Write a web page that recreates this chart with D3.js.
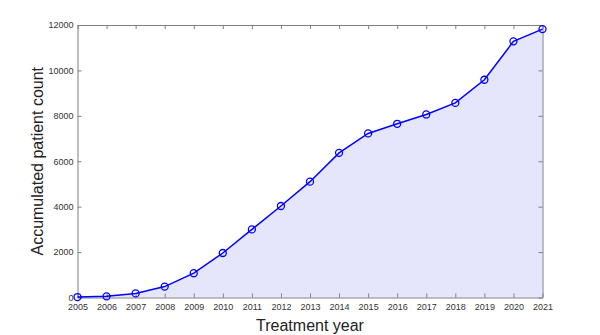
<!DOCTYPE html>
<html><head><meta charset="utf-8">
<script src="https://cdn.jsdelivr.net/npm/d3@7"></script>
<style>body{margin:0;background:#fff}svg{display:block}</style>
</head><body>
<svg id="c" width="600" height="335"></svg>
<script>
const years = [2005,2006,2007,2008,2009,2010,2011,2012,2013,2014,2015,2016,2017,2018,2019,2020,2021];
const counts = [20,50,180,480,1070,1960,3000,4030,5100,6370,7225,7650,8060,8570,9590,11280,11820];
const yTicks = [0,2000,4000,6000,8000,10000,12000];
const xLabel = "Treatment year";
const yLabel = "Accumulated patient count";

const svg = d3.select("#c");
const L = 77.5, R = 542.5, T = 25, B = 297.5;
const x = d3.scaleLinear().domain([2005,2021]).range([L,R]);
const y = d3.scaleLinear().domain([0,12000]).range([B,T]);
const axisCol = "#808080", textCol = "#333";

// area
svg.append("path").datum(years.map((yr,i)=>[yr,counts[i]]))
  .attr("d", d3.area().x(d=>x(d[0])).y0(y(0)).y1(d=>y(d[1])))
  .attr("fill","#e5e5fc");

// axes
function styleAxis(g){
  g.select(".domain").attr("stroke",axisCol);
  g.selectAll(".tick line").attr("stroke",axisCol);
  g.selectAll(".tick text").attr("fill",textCol).style("font-family","'Liberation Sans', Arial, sans-serif").style("font-size","9px");
}
const xb = svg.append("g").attr("transform",`translate(0,${B})`)
  .call(d3.axisBottom(x).tickValues(years).tickFormat(d3.format("d")).tickSizeInner(-4).tickSizeOuter(0).tickPadding(6));
styleAxis(xb);
const xt = svg.append("g").attr("transform",`translate(0,${T})`)
  .call(d3.axisTop(x).tickValues(years).tickFormat("").tickSizeInner(-4).tickSizeOuter(0));
styleAxis(xt);
const yl = svg.append("g").attr("transform",`translate(${L},0)`)
  .call(d3.axisLeft(y).tickValues(yTicks).tickFormat(d3.format("d")).tickSizeInner(-4).tickSizeOuter(0).tickPadding(4));
styleAxis(yl);
const yr = svg.append("g").attr("transform",`translate(${R},0)`)
  .call(d3.axisRight(y).tickValues(yTicks).tickFormat("").tickSizeInner(-4).tickSizeOuter(0));
styleAxis(yr);

// line
const pts = years.map((yr,i)=>[x(yr),y(counts[i])]);
svg.append("path").attr("d", d3.line()(pts))
  .attr("fill","none").attr("stroke","#0000ff").attr("stroke-width",1.5);
svg.selectAll("circle.m").data(pts).enter().append("circle")
  .attr("cx",d=>d[0]).attr("cy",d=>d[1]).attr("r",3.5)
  .attr("fill","none").attr("stroke","#0000ff").attr("stroke-width",1.3);

// labels
svg.append("text").attr("x",(L+R)/2).attr("y",331).attr("text-anchor","middle")
  .style("font-family","'Liberation Sans', Arial, sans-serif").style("font-size","16px").attr("fill","#222").text(xLabel);
svg.append("text").attr("transform",`translate(43,${(T+B)/2}) rotate(-90)`).attr("text-anchor","middle")
  .style("font-family","'Liberation Sans', Arial, sans-serif").style("font-size","16px").attr("fill","#222").text(yLabel);
</script>
</body></html>
